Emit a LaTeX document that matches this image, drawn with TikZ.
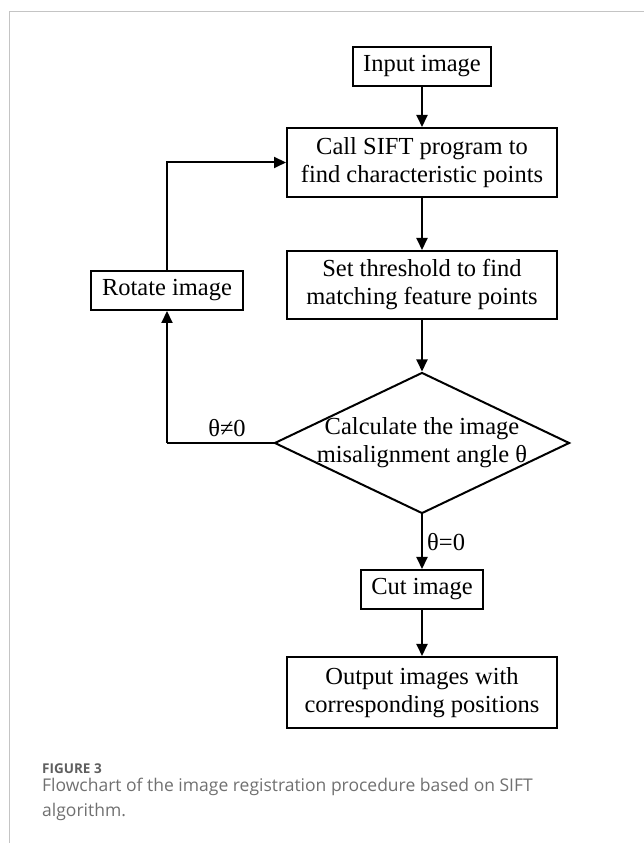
\documentclass[tikz,border=0pt]{standalone}
\usepackage{fontspec}
\setmainfont{Liberation Serif}
\newfontfamily\capfont{Open Sans}
\usetikzlibrary{shapes.geometric,arrows.meta}
\definecolor{capgray}{HTML}{707070}
\definecolor{framegray}{HTML}{C4C4C4}

\begin{document}
\begin{tikzpicture}[x=1pt,y=1pt,
  box/.style={draw, line width=2pt, inner sep=0pt, align=center,
    font=\fontsize{24.5}{28}\selectfont},
  decision/.style={draw, diamond, line width=2pt, inner sep=0pt,
    minimum width=295pt, minimum height=141pt},
  flow/.style={line width=2pt, -{Triangle[length=12pt,width=11pt]}},
  lbl/.style={inner sep=0pt, font=\fontsize{24.5}{28}\selectfont}]
\useasboundingbox (0,0) rectangle (644,843);
% frame
\draw[framegray, line width=1pt] (9.5,0) -- (9.5,831) -- (644,831);
% main column
\node[box, minimum width=138pt, minimum height=39pt] (input) at (422,776.5) {Input image};
\node[box, minimum width=270pt, minimum height=69pt] (sift) at (422,680.5)
  {Call SIFT program to\\find characteristic points};
\node[box, minimum width=270pt, minimum height=68pt] (thresh) at (422,558)
  {Set threshold to find\\matching feature points};
\node[decision] (calc) at (422,400) {};
\node[lbl, align=center] (calctext) at (calc) {Calculate the image\\misalignment angle θ};
\node[box, minimum width=122pt, minimum height=39pt] (cut) at (422,253.5) {Cut image};
\node[box, minimum width=270pt, minimum height=71pt] (output) at (422,150.5)
  {Output images with\\corresponding positions};
% loop back
\node[box, minimum width=152pt, minimum height=39pt] (rotate) at (167,552.5) {Rotate image};
\coordinate (bend) at (167,400);
% connectors
\draw[flow] (input) -- (sift);
\draw[flow] (sift) -- (thresh);
\draw[flow] (thresh) -- (calc.north);
\draw[flow] (calc.south) -- (cut);
\draw[flow] (cut) -- (output);
\draw[line width=2pt] (calc.west) -- (bend);
\draw[flow] (bend) -- (rotate);
\draw[flow] (rotate.north) |- (sift.west);
\node[lbl] (neq) at (227,415) {θ≠0};
\node[lbl, anchor=west] (eq) at (427,301) {θ=0};
% caption
\node[anchor=base west, inner sep=0pt, text=capgray!85!black,
  font=\capfont\bfseries\fontsize{13.5}{16}\selectfont] (fig) at (42,69) {FIGURE 3};
\node[anchor=base west, inner sep=0pt, text=capgray,
  font=\capfont\fontsize{17.5}{21}\selectfont] (cap1) at (42,51)
  {Flowchart of the image registration procedure based on SIFT};
\node[anchor=base west, inner sep=0pt, text=capgray,
  font=\capfont\fontsize{17.5}{21}\selectfont] (cap2) at (42,27) {algorithm.};
\end{tikzpicture}
\end{document}
